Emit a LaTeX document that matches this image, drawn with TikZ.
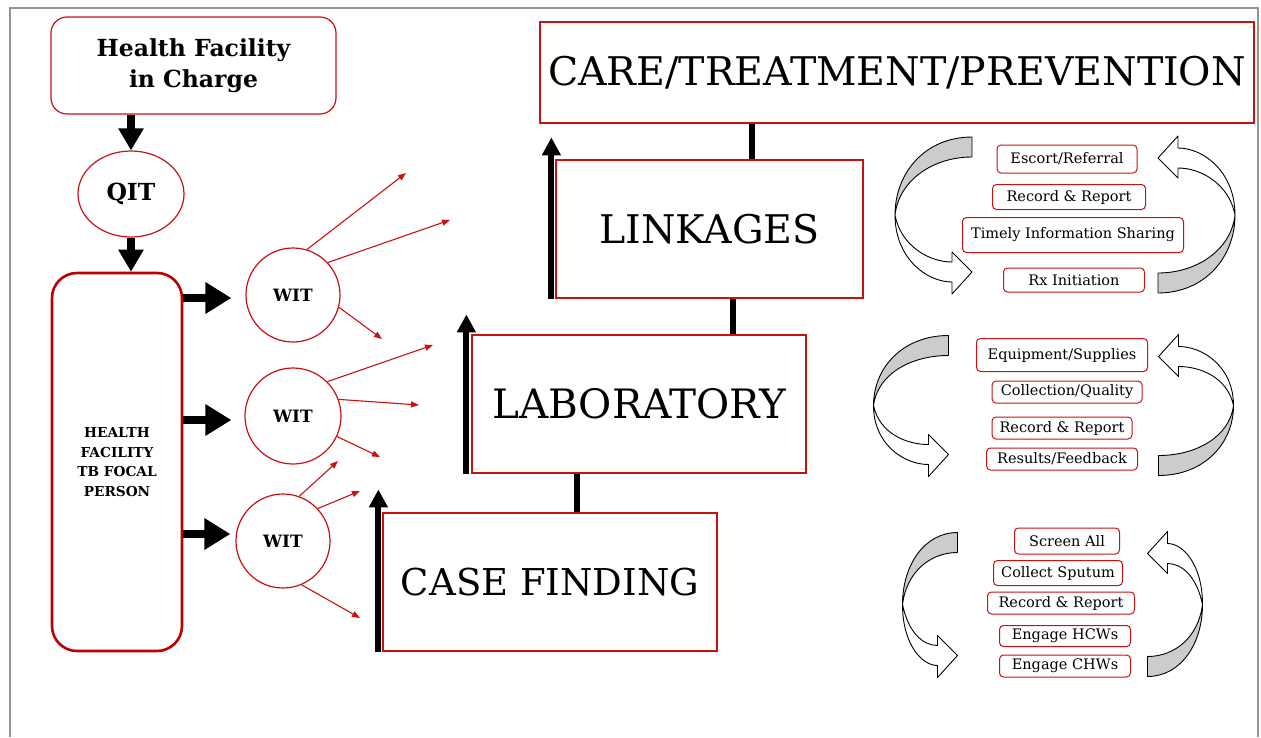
\documentclass[tikz,border=0pt]{standalone}
\usepackage{fontspec}
\setmainfont{DejaVu Serif}
\usetikzlibrary{arrows.meta, positioning, shapes.geometric}
\definecolor{boxred}{RGB}{200,18,18}
\definecolor{focalred}{RGB}{190,0,0}
\tikzset{redbox/.style={rectangle,draw=boxred,line width=1.2pt,fill=white,align=center,inner sep=0pt},
  roundbox/.style={redbox,rounded corners=16pt},
  stagebox/.style={redbox,font=\fontsize{39.5}{44}\selectfont},
  taskbox/.style={rectangle,draw=boxred,line width=1pt,rounded corners=4pt,inner sep=1pt,font=\fontsize{14.5}{16}\selectfont},
  teamnode/.style={circle,draw=boxred,line width=1.2pt,inner sep=0pt,font=\fontsize{17}{18}\bfseries},
  fatarrow/.style={line width=8pt,-{Triangle[length=26pt,width=30pt]}},
  downarrow/.style={line width=8pt,-{Triangle[length=22pt,width=24pt]}},
  upline/.style={line width=6pt,-{Triangle[length=18pt,width=18pt]}},
  joinline/.style={line width=6pt},
  witarrow/.style={draw=boxred,line width=1.1pt,-{Triangle[length=8pt,width=6pt]}},
  cycleline/.style={draw=black,line width=0.9pt,line join=round},
  pageline/.style={draw=black!42,line width=1.5pt}}
% one half of a circular arrow pair: #1 half width, #2 end offset, #3 half height
\newcommand{\cyclehalf}[3]{%
  \draw[cycleline,fill=black!20] (-#2,-#3) .. controls ({-#2-0.6*(#1-#2)},-#3) and (-#1,{-0.55*#3}) .. (-#1,0)
    .. controls ({-#1+4},{-0.45*#3}) and ({-#2-0.5*(#1-#2)},{-#3+20}) .. (-#2,{-#3+20}) -- cycle;
  \draw[cycleline,fill=white] (-#1,0) .. controls (-#1,{0.55*#3}) and ({-#2-20-0.45*(#1-#2-20)},{#3-11}) .. ({-#2-20},{#3-11})
    -- ({-#2-20},{#3+1}) -- (-#2,{#3-21}) -- ({-#2-20},{#3-41}) -- ({-#2-20},{#3-31})
    .. controls ({-#2-20-0.4*(#1-#2-20)},{#3-31}) and ({-#1+6},{0.4*#3}) .. (-#1,0) -- cycle;}
\newcommand{\cyclepair}[5]{%
  \begin{scope}[shift={(#1,#2)}]\cyclehalf{#3}{#4}{#5}\end{scope}
  \begin{scope}[shift={(#1,#2)},rotate=180]\cyclehalf{#3}{#4}{#5}\end{scope}}

\begin{document}
\begin{tikzpicture}[x=1pt,y=-1pt]
\useasboundingbox (0,0) rectangle (1261,737);
\draw[pageline] (10,737) -- (10,8) -- (1258,8) -- (1258,737);

% left column
\node[roundbox, minimum width=285pt, minimum height=97pt, font=\fontsize{23.5}{31}\bfseries] (hfic) at (193.5,65.5) {Health Facility\\in Charge};
\node[ellipse, draw=boxred, line width=1.2pt, minimum width=106pt, minimum height=86pt, inner sep=0pt, font=\fontsize{23.5}{24}\bfseries] (qit) at (131,194) {QIT};
\node[rectangle, draw=focalred, line width=2.6pt, rounded corners=25pt, minimum width=130pt, minimum height=378pt, align=center, font=\fontsize{13.7}{19.5}\bfseries] (focal) at (117,462) {HEALTH\\FACILITY\\TB FOCAL\\PERSON};
\node[teamnode, minimum size=94pt] (wit1) at (293,295) {WIT};
\node[teamnode, minimum size=96pt] (wit2) at (293,416) {WIT};
\node[teamnode, minimum size=94pt] (wit3) at (283,541) {WIT};

\draw[downarrow] (qit.north |- hfic.south) -- (qit.north);
\draw[downarrow] (qit.south) -- (qit.south |- focal.north);
\draw[fatarrow] (focal.east |- 0,298) -- ([xshift=-14pt]wit1.west |- 0,298);
\draw[fatarrow] (focal.east |- 0,420) -- ([xshift=-13pt]wit2.west |- 0,420);
\draw[fatarrow] (focal.east |- 0,534) -- ([xshift=-5pt]wit3.west |- 0,534);

\foreach \w/\a/\ex/\ey in {wit1/73/406/173, wit1/43/450/220, wit1/-15/382/339,
  wit2/45/433/345, wit2/20/419/405, wit2/-25/380/457,
  wit3/70/338/461, wit3/43/360/491, wit3/-67/360/618}
  \draw[witarrow] (\w.\a) -- (\ex,\ey);

% stages
\node[stagebox, minimum width=334pt, minimum height=138pt, font=\fontsize{37}{44}\selectfont] (casefind) at (550,582) {CASE FINDING};
\node[stagebox, minimum width=334pt, minimum height=138pt, font=\fontsize{40.5}{44}\selectfont] (lab) at (639,404) {LABORATORY};
\node[stagebox, minimum width=307pt, minimum height=138pt] (link) at (709.5,229) {LINKAGES};
\node[stagebox, minimum width=714pt, minimum height=101pt] (care) at (897,72.5) {CARE/TREATMENT/PREVENTION};

\draw[upline] ([xshift=-4pt]casefind.south west) -- ([xshift=-4pt,yshift=23pt]casefind.north west);
\draw[upline] ([xshift=-5pt]lab.south west) -- ([xshift=-5pt,yshift=20pt]lab.north west);
\draw[upline] ([xshift=-4pt]link.south west) -- ([xshift=-4pt,yshift=22pt]link.north west);
\draw[joinline] ([xshift=27pt]casefind.north) -- ([xshift=27pt]casefind.north |- lab.south);
\draw[joinline] ([xshift=94pt]lab.north) -- ([xshift=94pt]lab.north |- link.south);
\draw[joinline] ([xshift=42.5pt]link.north) -- ([xshift=42.5pt]link.north |- care.south);

% cycles
\cyclepair{1065}{215}{170}{93}{78}
\cyclepair{1053.5}{405.5}{180}{105}{70}
\cyclepair{1052.5}{604.5}{150}{95}{72}

\foreach \n/\txt/\x/\y/\w/\h in {esc/{Escort/Referral}/1067/159/140/28, rec1/{Record \& Report}/1069/197/153/25,
  share/{Timely Information Sharing}/1073/235/221/35, rx/{Rx Initiation}/1074/280/141/24,
  equip/{Equipment/Supplies}/1062/355/171/33, coll/{Collection/Quality}/1067/392/150/22,
  rec2/{Record \& Report}/1062/428/140/22, res/{Results/Feedback}/1062/459/151/22,
  screen/{Screen All}/1067/541/105/26, sput/{Collect Sputum}/1058/573/129/25,
  rec3/{Record \& Report}/1061/603/147/22, hcw/{Engage HCWs}/1065/636/131/21,
  chw/{Engage CHWs}/1065/666/131/22}
  \node[taskbox, minimum width=\w pt, minimum height=\h pt] (\n) at (\x,\y) {\txt};
\end{tikzpicture}
\end{document}
